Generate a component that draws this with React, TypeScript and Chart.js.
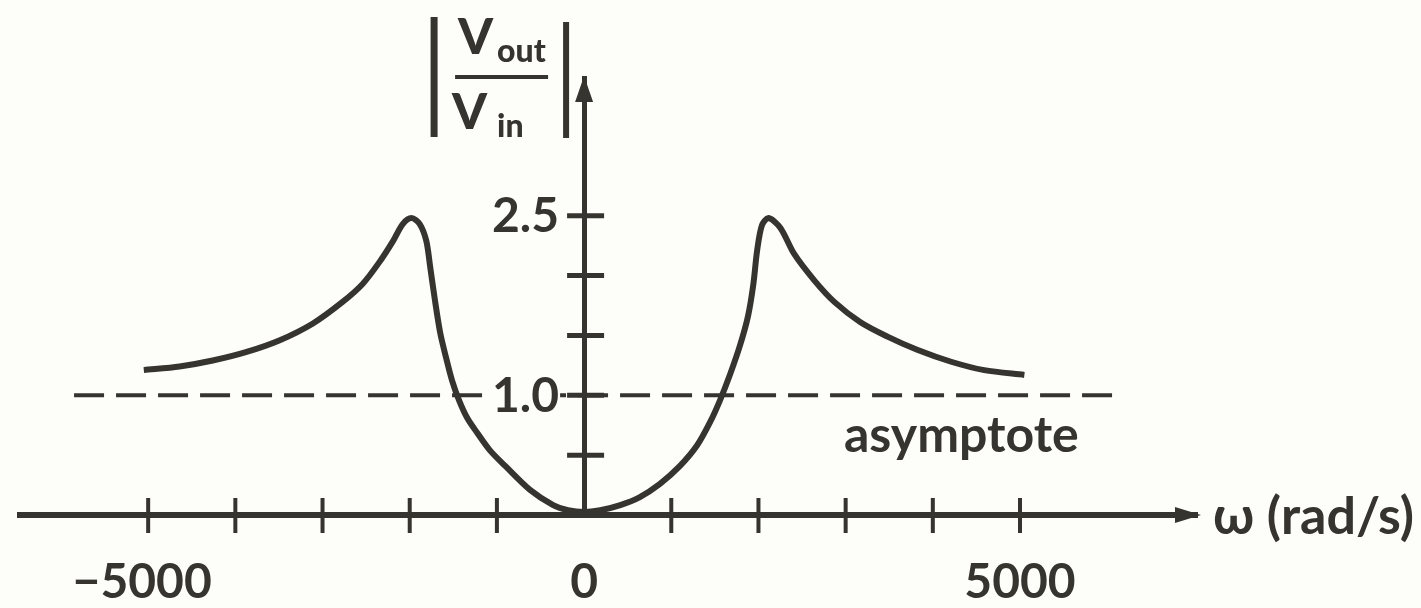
import React, { useEffect, useRef } from "react";
import { Chart, registerables } from "chart.js";

Chart.register(...registerables);

// ---- data ----
const omega = [
  -5050, -4640, -4260, -3880, -3490, -3110, -2770, -2540, -2350, -2190, -2080, -1980,
  -1885, -1810, -1765, -1710, -1650, -1585, -1515, -1435, -1340, -1225, -1080, -905,
  -620, -355, -185, 0, 185, 415, 640, 870, 1100, 1295, 1445, 1560, 1675, 1790, 1880,
  1940, 1985, 2040, 2115, 2250, 2410, 2640, 2870, 3170, 3480, 3820, 4210, 4590, 5050,
];
const gain = [
  1.21, 1.24, 1.29, 1.36, 1.46, 1.6, 1.78, 1.93, 2.11, 2.29, 2.43, 2.48,
  2.43, 2.29, 2.07, 1.79, 1.52, 1.32, 1.125, 0.96, 0.81, 0.685, 0.54, 0.41,
  0.21, 0.083, 0.04, 0.025, 0.04, 0.083, 0.15, 0.26, 0.41, 0.58, 0.775, 0.96, 1.175, 1.42, 1.66,
  1.92, 2.21, 2.42, 2.48, 2.4, 2.18, 1.96, 1.78, 1.61, 1.49, 1.38, 1.28, 1.21, 1.17,
];
const asymptoteOmega = [-5850, 6100];
const asymptoteValue = [1.0, 1.0];

const xTickValues = [-5000, -4000, -3000, -2000, -1000, 0, 1000, 2000, 3000, 4000, 5000];
const xTickLabels = ["\u22125000", "", "", "", "", "0", "", "", "", "", "5000"];
const yTickValues = [0.5, 1.0, 1.5, 2.0, 2.5];
const yTickLabels = ["", "1.0", "", "", "2.5"];

const xAxisTitle = "\u03c9 (rad/s)";
const asymptoteLabel = "asymptote";

const INK = "#36342f";
const PAPER = "#fdfdf9";
const FONT = "Lato, 'Open Sans', sans-serif";

const decorPlugin = {
  id: "decor",
  beforeDraw(chart: any) {
    const { ctx, width, height } = chart;
    ctx.save();
    ctx.fillStyle = PAPER;
    ctx.fillRect(0, 0, width, height);
    ctx.restore();
  },
  afterDraw(chart: any) {
    const { ctx, chartArea } = chart;
    const x = chart.scales.x;
    const y = chart.scales.y;
    const x0 = x.getPixelForValue(0);
    const y0 = y.getPixelForValue(0);
    ctx.save();
    ctx.strokeStyle = INK;
    ctx.fillStyle = INK;
    ctx.lineCap = "butt";

    // cross ticks on the horizontal axis
    ctx.lineWidth = 4;
    xTickValues.forEach((v) => {
      if (v === 0) return;
      const px = x.getPixelForValue(v);
      ctx.beginPath();
      ctx.moveTo(px, y0 - 17);
      ctx.lineTo(px, y0 + 18);
      ctx.stroke();
    });
    // cross ticks on the vertical axis
    ctx.lineWidth = 5;
    yTickValues.forEach((v) => {
      const py = y.getPixelForValue(v);
      ctx.beginPath();
      ctx.moveTo(x0 - 17, py);
      ctx.lineTo(x0 + 20, py);
      ctx.stroke();
    });

    // arrow heads
    const xr = chartArea.right;
    ctx.beginPath();
    ctx.moveTo(xr + 4, y0);
    ctx.lineTo(xr - 22, y0 - 8);
    ctx.lineTo(xr - 22, y0 + 8);
    ctx.closePath();
    ctx.fill();
    const yt = chartArea.top;
    ctx.beginPath();
    ctx.moveTo(x0, yt - 2);
    ctx.lineTo(x0 - 9, yt + 24);
    ctx.lineTo(x0 + 9, yt + 24);
    ctx.closePath();
    ctx.fill();

    // x tick labels
    ctx.font = `bold 48px ${FONT}`;
    ctx.textAlign = "center";
    ctx.textBaseline = "alphabetic";
    xTickValues.forEach((v, i) => {
      const t = xTickLabels[i];
      if (!t) return;
      ctx.fillText(t, x.getPixelForValue(v) - (v < 0 ? 6 : 0), y0 + 83);
    });

    // y tick labels (with a gap in the dashed line behind them)
    ctx.textAlign = "right";
    ctx.textBaseline = "middle";
    yTickValues.forEach((v, i) => {
      const t = yTickLabels[i];
      if (!t) return;
      const py = y.getPixelForValue(v);
      const w = ctx.measureText(t).width;
      ctx.fillStyle = PAPER;
      ctx.fillRect(x0 - 26 - w - 6, py - 6, w + 8, 12);
      ctx.fillStyle = INK;
      ctx.fillText(t, x0 - 25, py + 1);
    });

    // x axis title
    ctx.textAlign = "left";
    ctx.textBaseline = "middle";
    ctx.font = `bold 52px ${FONT}`;
    ctx.fillText(xAxisTitle, xr + 16, y0 + 2);

    // asymptote label
    ctx.font = `bold 50px ${FONT}`;
    ctx.textBaseline = "alphabetic";
    ctx.fillText(asymptoteLabel, x.getPixelForValue(2980), y.getPixelForValue(1.0) + 57);

    // y axis title |Vout / Vin|
    const tx = x0 - 150;
    ctx.lineWidth = 7;
    ctx.beginPath();
    ctx.moveTo(tx, 17);
    ctx.lineTo(tx, 137);
    ctx.stroke();
    ctx.lineWidth = 6;
    ctx.beginPath();
    ctx.moveTo(tx + 132, 22);
    ctx.lineTo(tx + 132, 138);
    ctx.stroke();
    ctx.lineWidth = 4;
    ctx.beginPath();
    ctx.moveTo(tx + 21, 77);
    ctx.lineTo(tx + 114, 77);
    ctx.stroke();
    ctx.font = `900 50px ${FONT}`;
    ctx.fillText("V", tx + 24, 54);
    ctx.fillText("V", tx + 18, 129);
    ctx.font = `900 32px ${FONT}`;
    ctx.fillText("out", tx + 63, 62);
    ctx.fillText("in", tx + 63, 137);

    ctx.restore();
  },
};

export default function App() {
  const ref = useRef<HTMLCanvasElement | null>(null);
  useEffect(() => {
    if (!ref.current) return;
    const curve = omega.map((w, i) => ({ x: w, y: gain[i] }));
    const asym = asymptoteOmega.map((w, i) => ({ x: w, y: asymptoteValue[i] }));
    const chart = new Chart(ref.current, {
      type: "scatter",
      data: {
        datasets: [
          {
            label: "|Vout/Vin|",
            data: curve,
            showLine: true,
            borderColor: INK,
            borderWidth: 6,
            pointRadius: 0,
            tension: 0.3,
            borderJoinStyle: "round",
            fill: false,
          },
          {
            label: "asymptote",
            data: asym,
            showLine: true,
            borderColor: INK,
            borderWidth: 4,
            borderDash: [30, 12],
            pointRadius: 0,
            fill: false,
          },
        ],
      },
      options: {
        animation: false,
        responsive: false,
        devicePixelRatio: 1,
        layout: { padding: { left: 20, right: 224, top: 78, bottom: 93 } },
        plugins: { legend: { display: false }, tooltip: { enabled: false }, title: { display: false } },
        scales: {
          x: {
            type: "linear",
            position: "bottom",
            min: -6470,
            max: 7030,
            grid: { display: false, drawTicks: false },
            ticks: { display: false },
            border: { display: true, color: INK, width: 6 },
          },
          y: {
            type: "linear",
            position: { x: 0 } as any,
            min: 0,
            max: 3.65,
            grid: { display: false, drawTicks: false },
            ticks: { display: false },
            border: { display: true, color: INK, width: 5 },
          },
        },
      } as any,
      plugins: [decorPlugin],
    });
    return () => chart.destroy();
  }, []);
  return (
    <div style={{ position: "fixed", left: 0, top: 0, width: 1421, height: 608, background: PAPER }}>
      <canvas ref={ref} width={1421} height={608} style={{ display: "block" }} />
    </div>
  );
}
